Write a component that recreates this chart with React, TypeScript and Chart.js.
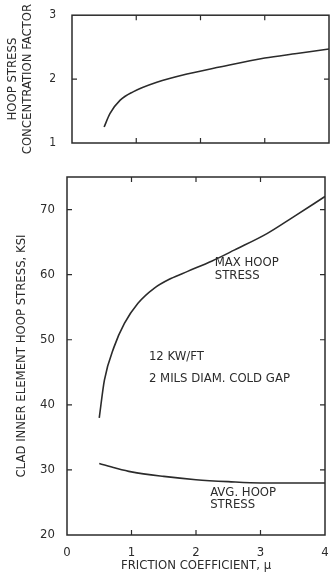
import React, { useEffect, useRef } from "react";
import { Chart, registerables } from "chart.js";

Chart.register(...registerables);

const FONT = '"DejaVu Sans Condensed", "Liberation Sans Narrow", "DejaVu Sans", sans-serif';
const INK = "#2b2b2b";

// Top panel: hoop stress concentration factor vs friction coefficient
const frictionTop = [0.5, 0.59, 0.75, 0.95, 1.32, 1.79, 2.3, 3, 3.5, 4];
const concentrationFactor = [1.25, 1.46, 1.67, 1.8, 1.95, 2.08, 2.19, 2.33, 2.4, 2.47];

// Bottom panel: max hoop stress (ksi)
const frictionMax = [0.5, 0.58, 0.73, 0.89, 1.1, 1.35, 1.61, 1.87, 2.25, 2.6, 3.1, 3.5, 4];
const maxHoopStress = [38, 43.8, 48.9, 52.5, 55.6, 57.9, 59.4, 60.5, 62.1, 63.8, 66.3, 68.8, 72];

// Bottom panel: average hoop stress (ksi)
const frictionAvg = [0.5, 0.75, 1, 1.5, 2, 2.5, 3, 3.5, 4];
const avgHoopStress = [31, 30.3, 29.7, 29, 28.5, 28.2, 28, 28, 28];

const xTicks = [0, 1, 2, 3, 4];
const topYTicks = [1, 2, 3];
const bottomYTicks = [20, 30, 40, 50, 60, 70];

const topYTitle = ["HOOP STRESS", "CONCENTRATION FACTOR"];
const bottomYTitle = "CLAD INNER ELEMENT HOOP STRESS, KSI";
const xTitle = "FRICTION COEFFICIENT, \u03bc";

type Note = { x: number; y: number; lines: string[]; gap: number };
const bottomNotes: Note[] = [
  { x: 2.29, y: 61.8, lines: ["MAX HOOP", "STRESS"], gap: 13 },
  { x: 1.27, y: 47.4, lines: ["12 KW/FT", "2 MILS DIAM. COLD GAP"], gap: 22 },
  { x: 2.22, y: 26.5, lines: ["AVG. HOOP", "STRESS"], gap: 12 },
];

function toPoints(xs: number[], ys: number[]) {
  return xs.map((x, i) => ({ x, y: ys[i] }));
}

function framePlugin(innerX: number[], innerY: number[], notes: Note[]) {
  return {
    id: "frame",
    afterDraw(chart: any) {
      const { ctx, chartArea: a, scales } = chart;
      const sx = scales.x;
      const sy = scales.y;
      ctx.save();
      ctx.strokeStyle = INK;
      ctx.lineWidth = 1.5;
      ctx.strokeRect(a.left, a.top, a.right - a.left, a.bottom - a.top);
      ctx.lineWidth = 1.2;
      ctx.beginPath();
      for (const v of innerX) {
        const px = sx.getPixelForValue(v);
        ctx.moveTo(px, a.top);
        ctx.lineTo(px, a.top + 5);
        ctx.moveTo(px, a.bottom);
        ctx.lineTo(px, a.bottom - 5);
      }
      for (const v of innerY) {
        const py = sy.getPixelForValue(v);
        ctx.moveTo(a.left, py);
        ctx.lineTo(a.left + 5, py);
        ctx.moveTo(a.right, py);
        ctx.lineTo(a.right - 5, py);
      }
      ctx.stroke();
      ctx.fillStyle = INK;
      ctx.font = `13px ${FONT}`;
      ctx.textAlign = "left";
      ctx.textBaseline = "middle";
      for (const n of notes) {
        const px = sx.getPixelForValue(n.x);
        const py = sy.getPixelForValue(n.y);
        n.lines.forEach((t, i) => ctx.fillText(t, px, py + i * n.gap));
      }
      ctx.restore();
    },
  };
}

const lineStyle = {
  borderColor: INK,
  borderWidth: 1.6,
  pointRadius: 0,
  fill: false,
  tension: 0.4,
  cubicInterpolationMode: "monotone" as const,
};

export default function App() {
  const topRef = useRef<HTMLCanvasElement>(null);
  const botRef = useRef<HTMLCanvasElement>(null);

  useEffect(() => {
    const top = new Chart(topRef.current!, {
      type: "line",
      data: {
        datasets: [{ ...lineStyle, data: toPoints(frictionTop, concentrationFactor) }],
      },
      options: {
        animation: false,
        responsive: false,
        layout: { padding: { top: 14, bottom: 17, right: 3, left: 0 } },
        plugins: { legend: { display: false }, tooltip: { enabled: false } },
        scales: {
          x: { type: "linear", min: 0, max: 4, display: false },
          y: {
            type: "linear",
            min: 1,
            max: 3,
            afterBuildTicks: (s: any) => {
              s.ticks = topYTicks.map((v) => ({ value: v }));
            },
            afterFit: (s: any) => {
              s.width = 72;
            },
            grid: { display: false },
            border: { display: false },
            ticks: { font: { family: FONT, size: 12 }, color: INK, padding: 8 },
            title: {
              display: true,
              text: topYTitle,
              color: INK,
              font: { family: FONT, size: 13, lineHeight: 1.15 },
              padding: { top: 5.5, bottom: 0 },
            },
          },
        },
      },
      plugins: [framePlugin([1, 2, 3], [2], [])],
    } as any);

    const bot = new Chart(botRef.current!, {
      type: "line",
      data: {
        datasets: [
          { ...lineStyle, data: toPoints(frictionMax, maxHoopStress) },
          { ...lineStyle, data: toPoints(frictionAvg, avgHoopStress) },
        ],
      },
      options: {
        animation: false,
        responsive: false,
        layout: { padding: { top: 17, bottom: 0, right: 7, left: 0 } },
        plugins: { legend: { display: false }, tooltip: { enabled: false } },
        scales: {
          x: {
            type: "linear",
            min: 0,
            max: 4,
            afterBuildTicks: (s: any) => {
              s.ticks = xTicks.map((v) => ({ value: v }));
            },
            afterFit: (s: any) => {
              s.height = 42;
            },
            grid: { display: false },
            border: { display: false },
            ticks: { font: { family: FONT, size: 13 }, color: INK, padding: 2, maxRotation: 0 },
            title: {
              display: true,
              text: xTitle,
              color: INK,
              font: { family: FONT, size: 13 },
              padding: { top: 0, bottom: 4 },
            },
          },
          y: {
            type: "linear",
            min: 20,
            max: 75,
            afterBuildTicks: (s: any) => {
              s.ticks = bottomYTicks.map((v) => ({ value: v }));
            },
            afterFit: (s: any) => {
              s.width = 67;
            },
            grid: { display: false },
            border: { display: false },
            ticks: { font: { family: FONT, size: 13 }, color: INK, padding: 4 },
            title: {
              display: true,
              text: bottomYTitle,
              color: INK,
              font: { family: FONT, size: 13 },
              padding: { top: 14, bottom: 0 },
            },
          },
        },
      },
      plugins: [framePlugin([1, 2, 3], [30, 40, 50, 60, 70], bottomNotes)],
    } as any);

    return () => {
      top.destroy();
      bot.destroy();
    };
  }, []);

  return (
    <div style={{ position: "absolute", left: 0, top: 0, width: 332, height: 577, background: "#fff" }}>
      <canvas ref={topRef} width={332} height={160} style={{ position: "absolute", left: 0, top: 0 }} />
      <canvas ref={botRef} width={332} height={417} style={{ position: "absolute", left: 0, top: 160 }} />
    </div>
  );
}
